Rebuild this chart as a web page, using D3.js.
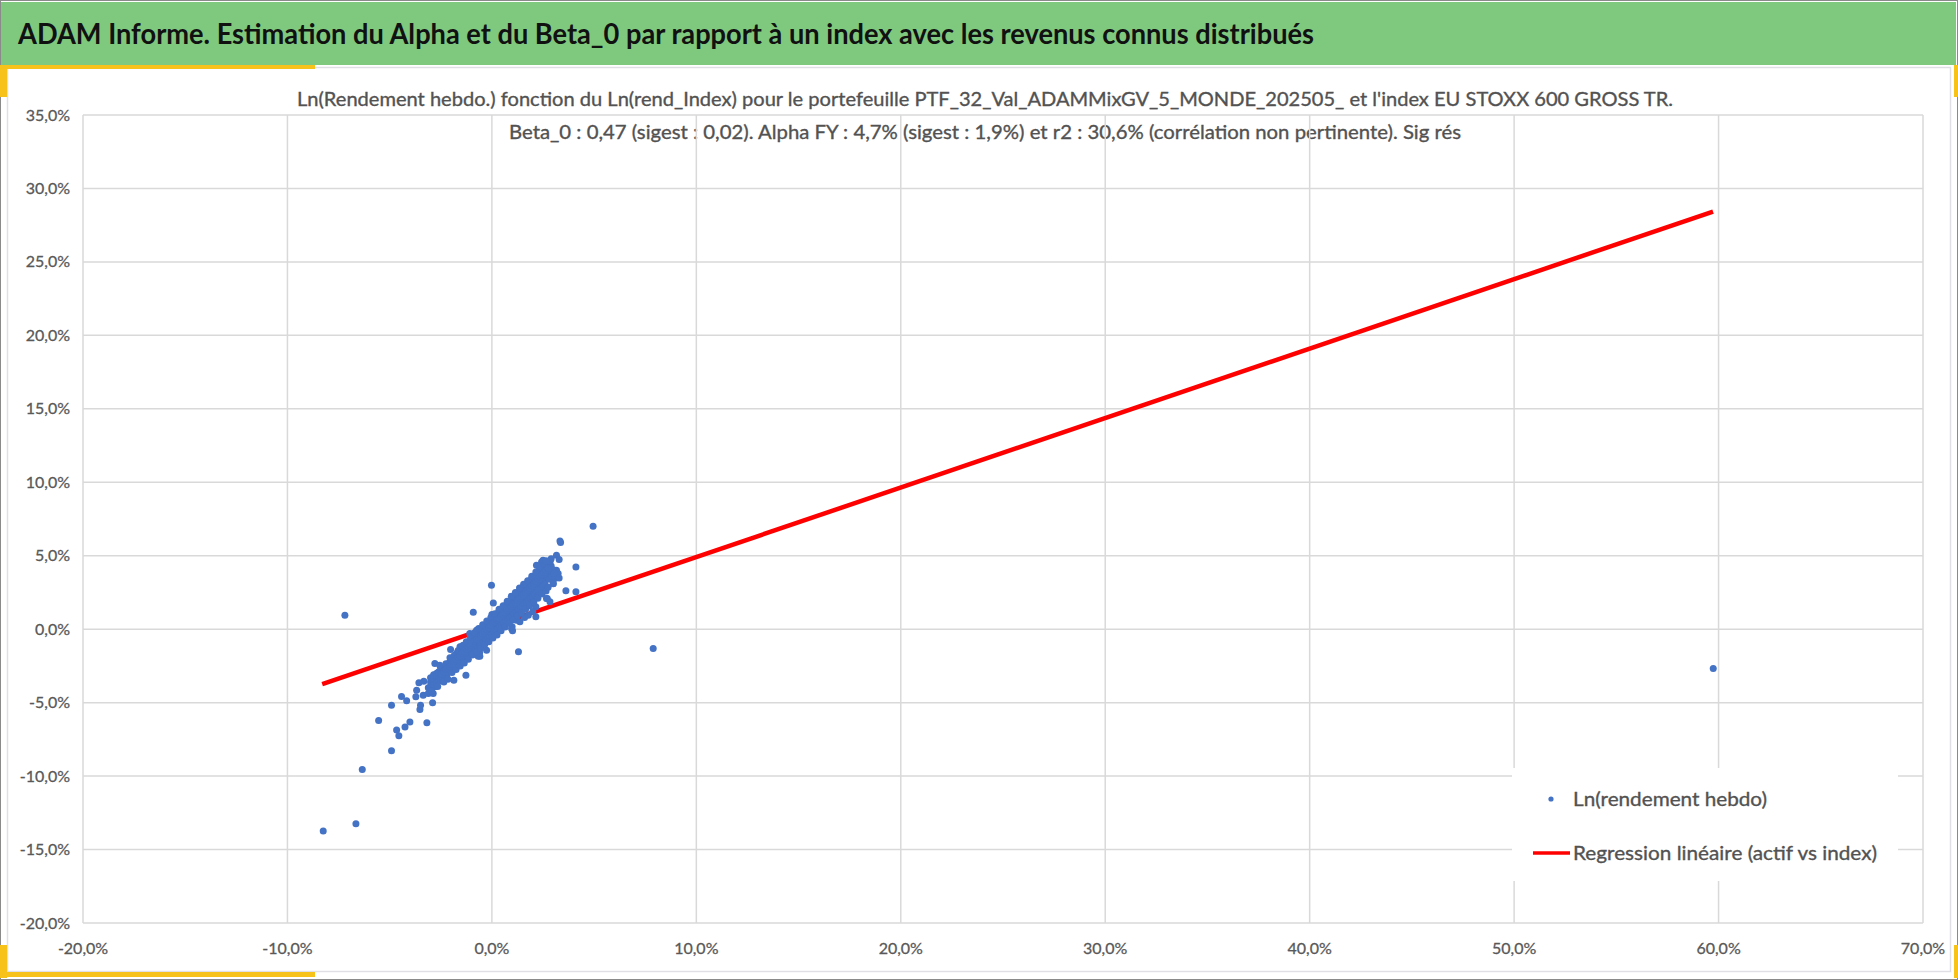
<!DOCTYPE html>
<html>
<head>
<meta charset="utf-8">
<script src="https://cdn.jsdelivr.net/npm/d3@7"></script>
<style>
  body { margin: 0; background: #fff; }
  svg text { font-family: Lato, "Open Sans", sans-serif; }
</style>
</head>
<body>
<div id="chart"></div>
<script>
// Dimensions
const width = 1958, height = 980;
const plot = { left: 83, right: 1923, top: 115, bottom: 923 };

// text
const headerTitle = "ADAM Informe. Estimation du Alpha et du Beta_0 par rapport à un index avec les revenus connus distribués";
const subTitle1 = "Ln(Rendement hebdo.) fonction du Ln(rend_Index) pour le portefeuille PTF_32_Val_ADAMMixGV_5_MONDE_202505_ et l'index EU STOXX 600 GROSS TR.";
const subTitle2 = "Beta_0 : 0,47 (sigest : 0,02).  Alpha FY : 4,7% (sigest : 1,9%) et r2 : 30,6% (corrélation non pertinente). Sig rés";
const legendLabels = ["Ln(rendement hebdo)", "Regression linéaire (actif vs index)"];

// axes (percent)
const xTicks = [-20, -10, 0, 10, 20, 30, 40, 50, 60, 70];
const yTicks = [-20, -15, -10, -5, 0, 5, 10, 15, 20, 25, 30, 35];

// regression line end points (index %, portfolio %)
const regX = [-8.3, 59.73];
const regY = [-3.74, 28.43];

// weekly log returns, [index %, portfolio %]
const weeklyPoints = [
  [59.74, -2.67], [7.89, -1.31], [-7.19, 0.95], [4.95, 7.0],
  [-8.25, -13.74], [-6.65, -13.24], [-6.34, -9.55], [-4.91, -8.28], [-5.54, -6.21],
  [-4.91, -5.17], [-4.66, -6.87], [-4.55, -7.26], [-4.25, -6.65], [-4.01, -6.31],
  [-4.42, -4.58], [-4.17, -4.88], [-3.68, -4.15], [-3.72, -4.60], [-3.52, -5.46],
  [-3.49, -5.17], [-3.18, -6.37], [-3.57, -3.65], [-3.33, -3.54], [-3.36, -4.49],
  [-3.11, -4.38], [-3.11, -3.99], [-2.90, -5.01], [-2.79, -2.34], [-2.79, -3.92],
  [-2.74, -3.58], [-2.87, -4.38], [-1.86, -3.47], [-1.27, -3.13], [-0.59, -1.84],
  [1.30, -1.54], [-2.02, -1.38], [-1.56, -1.2], [-0.91, 1.16], [0.07, 1.79], [-0.02, 2.99],
  [3.33, 6.0], [3.36, 5.9], [3.16, 5.03], [3.29, 4.74], [4.11, 4.24], [3.62, 2.61],
  [4.11, 2.54], [2.71, 2.09], [2.84, 1.86], [2.67, 2.09], [3.16, 4.01], [3.24, 3.79],
  [3.08, 3.45], [3.0, 3.11], [3.29, 3.49], [2.76, 4.35], [2.43, 4.58], [2.18, 4.35],
  [2.15, 0.84], [2.15, 1.52], [1.78, 0.95], [1.37, 0.5], [0.96, 0.05], [1.01, -0.1],
  [0.99, 0.16], [0.23, 0.39], [0.72, 0.5], [-0.1, 0.39], [0.23, -0.29], [-1.08, -0.29],
  [-0.75, -0.07], [-0.67, -1.84], [-0.26, -1.43], [-1.24, -1.88],
  [-3.0, -3.9], [-3.0, -3.3], [-3.0, -3.6], [-2.85, -3.5], [-2.85, -3.1], [-2.85, -3.8],
  [-2.7, -3.4], [-2.7, -3.0], [-2.7, -3.2], [-2.7, -3.7], [-2.6, -3.3], [-2.6, -2.9],
  [-2.6, -3.55], [-2.5, -3.2], [-2.5, -2.8], [-2.5, -3.0], [-2.5, -3.45], [-2.5, -2.6],
  [-2.4, -3.1], [-2.4, -2.7], [-2.4, -2.95], [-2.4, -3.35], [-2.3, -3.0], [-2.3, -2.65],
  [-2.3, -2.85], [-2.3, -3.2], [-2.2, -2.9], [-2.2, -2.5], [-2.2, -2.7], [-2.2, -3.1],
  [-2.1, -2.6], [-2.1, -2.3], [-2.1, -2.85], [-2.1, -2.45], [-2.0, -2.5], [-2.0, -2.2],
  [-2.0, -2.7], [-2.0, -2.35], [-1.9, -2.4], [-1.9, -2.1], [-1.9, -2.6], [-1.9, -2.25],
  [-1.8, -2.3], [-1.8, -2.0], [-1.8, -2.15], [-1.8, -2.5], [-1.8, -1.75], [-1.7, -2.15],
  [-1.7, -1.9], [-1.7, -2.35], [-1.7, -1.6], [-1.6, -2.05], [-1.6, -1.75], [-1.6, -1.5],
  [-1.6, -2.2], [-1.5, -1.9], [-1.5, -1.65], [-1.5, -1.4], [-1.5, -2.15], [-1.4, -1.8],
  [-1.4, -1.55], [-1.4, -1.3], [-1.4, -2.0], [-1.4, -1.1], [-1.3, -1.7], [-1.3, -1.45],
  [-1.3, -1.2], [-1.3, -1.95], [-1.2, -1.55], [-1.2, -1.3], [-1.2, -1.05], [-1.2, -1.8],
  [-1.2, -0.9], [-1.1, -1.45], [-1.1, -1.2], [-1.1, -0.95], [-1.1, -1.65], [-1.0, -1.3],
  [-1.0, -1.05], [-1.0, -0.8], [-1.0, -1.55], [-1.0, -0.6], [-0.9, -1.2], [-0.9, -0.95],
  [-0.9, -0.7], [-0.9, -1.4], [-0.9, -0.5], [-0.8, -1.1], [-0.8, -0.85], [-0.8, -0.6],
  [-0.8, -1.3], [-0.8, -0.4], [-0.7, -0.95], [-0.7, -0.7], [-0.7, -0.45], [-0.7, -1.2],
  [-0.7, -0.25], [-0.6, -0.85], [-0.6, -0.6], [-0.6, -0.35], [-0.6, -1.1], [-0.6, -0.1],
  [-0.6, -1.6], [-0.5, -0.7], [-0.5, -0.45], [-0.5, -0.2], [-0.5, -0.95], [-0.5, 0.0],
  [-0.4, -0.6], [-0.4, -0.35], [-0.4, -0.1], [-0.4, -0.8], [-0.4, 0.15], [-0.3, -0.45],
  [-0.3, -0.2], [-0.3, 0.05], [-0.3, -0.7], [-0.3, 0.3], [-0.2, -0.35], [-0.2, -0.1],
  [-0.2, 0.15], [-0.2, -0.6], [-0.2, 0.4], [-0.1, -0.2], [-0.1, 0.05], [-0.1, 0.3],
  [-0.1, -0.45], [-0.1, 0.55], [0.0, -0.1], [0.0, 0.15], [0.0, 0.4], [0.0, -0.35],
  [0.0, 0.65], [0.0, 1.0], [0.1, 0.05], [0.1, 0.3], [0.1, 0.55], [0.1, -0.2], [0.1, 0.8],
  [0.2, 0.2], [0.2, 0.45], [0.2, 0.7], [0.2, -0.05], [0.2, 0.95], [0.3, 0.3], [0.3, 0.55],
  [0.3, 0.8], [0.3, 0.05], [0.3, 1.1], [0.4, 0.45], [0.4, 0.7], [0.4, 0.95], [0.4, 0.2],
  [0.4, 1.25], [0.5, 0.55], [0.5, 0.8], [0.5, 1.05], [0.5, 0.3], [0.5, 1.35], [0.6, 0.7],
  [0.6, 0.95], [0.6, 1.2], [0.6, 0.45], [0.6, 1.5], [0.7, 0.8], [0.7, 1.05], [0.7, 1.35],
  [0.7, 0.55], [0.7, 1.65], [0.8, 0.95], [0.8, 1.2], [0.8, 1.45], [0.8, 0.7], [0.8, 1.8],
  [0.9, 1.05], [0.9, 1.35], [0.9, 1.6], [0.9, 0.8], [0.9, 1.95], [1.0, 1.2], [1.0, 1.45],
  [1.0, 1.75], [1.0, 0.9], [1.0, 2.1], [1.1, 1.3], [1.1, 1.6], [1.1, 1.9], [1.1, 1.0],
  [1.1, 2.2], [1.2, 1.45], [1.2, 1.75], [1.2, 2.0], [1.2, 1.15], [1.2, 2.35], [1.2, 0.6],
  [1.3, 1.6], [1.3, 1.85], [1.3, 2.15], [1.3, 1.3], [1.3, 2.5], [1.4, 1.7], [1.4, 2.0],
  [1.4, 2.3], [1.4, 1.4], [1.4, 2.6], [1.5, 1.85], [1.5, 2.15], [1.5, 2.45], [1.5, 1.55],
  [1.5, 2.75], [1.6, 2.0], [1.6, 2.3], [1.6, 2.6], [1.6, 1.7], [1.6, 2.9], [1.6, 0.8],
  [1.7, 2.1], [1.7, 2.45], [1.7, 2.75], [1.7, 1.8], [1.7, 3.05], [1.8, 2.25], [1.8, 2.6],
  [1.8, 2.9], [1.8, 1.95], [1.8, 3.2], [1.9, 2.4], [1.9, 2.75], [1.9, 3.05], [1.9, 2.1],
  [1.9, 3.35], [2.0, 2.55], [2.0, 2.9], [2.0, 3.2], [2.0, 2.2], [2.0, 3.5], [2.0, 1.2],
  [2.1, 2.7], [2.1, 3.05], [2.1, 3.35], [2.1, 2.35], [2.1, 3.65], [2.2, 2.85], [2.2, 3.2],
  [2.2, 3.5], [2.2, 2.5], [2.2, 3.8], [2.3, 3.0], [2.3, 3.35], [2.3, 3.7], [2.3, 2.6],
  [2.3, 4.0], [2.4, 3.15], [2.4, 3.5], [2.4, 3.85], [2.4, 2.75], [2.4, 4.2], [2.5, 3.3],
  [2.5, 3.65], [2.5, 4.0], [2.5, 2.9], [2.6, 3.45], [2.6, 3.8], [2.6, 4.2], [2.6, 3.05],
  [2.6, 4.4], [2.7, 3.6], [2.7, 3.95], [2.7, 4.35], [2.8, 3.75], [2.8, 4.1], [2.8, 4.5],
  [2.8, 3.4], [2.9, 3.9], [2.9, 4.3], [3.0, 4.05], [3.0, 3.1],
  // outer edges of the band
  [-2.95, -4.2], [-2.65, -3.9], [-2.55, -2.45], [-2.35, -3.6], [-2.25, -2.35], [-2.15, -3.4],
  [-2.05, -1.95], [-1.95, -2.95], [-1.85, -1.8], [-1.75, -2.75], [-1.65, -1.45], [-1.55, -2.5],
  [-1.45, -1.15], [-1.35, -2.3], [-1.25, -0.85], [-1.15, -2.05], [-1.05, -0.55], [-0.95, -1.75],
  [-0.85, -0.25], [-0.75, -1.55], [-0.65, 0.05], [-0.55, -1.3], [-0.45, 0.3], [-0.35, -1.05],
  [-0.25, 0.55], [-0.15, -0.85], [-0.05, 0.8], [0.05, -0.6], [0.15, 1.05], [0.25, -0.4],
  [0.35, 1.35], [0.45, -0.1], [0.55, 1.6], [0.65, 0.15], [0.75, 1.9], [0.85, 0.4],
  [0.95, 2.25], [1.05, 0.65], [1.15, 2.5], [1.25, 0.9], [1.35, 2.8], [1.45, 1.1],
  [1.55, 3.05], [1.65, 1.35], [1.75, 3.3], [1.85, 1.6], [1.95, 3.6], [2.05, 1.85],
  [2.15, 3.9], [2.25, 2.1], [2.35, 4.3], [2.45, 2.4], [2.55, 4.45], [2.65, 2.6],
  [2.75, 2.85], [2.95, 3.6], [3.05, 3.8], [2.85, 4.6], [2.9, 4.8], [2.5, 4.7], [2.65, 4.65],
  // band core
  [-2.45, -3.05], [-2.35, -2.9], [-2.25, -2.75], [-2.15, -2.65], [-2.05, -2.55], [-1.95, -2.4],
  [-1.85, -2.2], [-1.75, -2.05], [-1.65, -1.9], [-1.55, -1.8], [-1.45, -1.6], [-1.35, -1.5],
  [-1.25, -1.35], [-1.15, -1.25], [-1.05, -1.1], [-0.95, -0.95], [-0.85, -0.8], [-0.75, -0.7],
  [-0.65, -0.55], [-0.55, -0.45], [-0.45, -0.3], [-0.35, -0.15], [-0.25, 0.0], [-0.15, 0.1],
  [-0.05, 0.25], [0.05, 0.4], [0.15, 0.5], [0.25, 0.65], [0.35, 0.75], [0.45, 0.9],
  [0.55, 1.0], [0.65, 1.15], [0.75, 1.3], [0.85, 1.4], [0.95, 1.55], [1.05, 1.7],
  [1.15, 1.8], [1.25, 1.95], [1.35, 2.1], [1.45, 2.25], [1.55, 2.35], [1.65, 2.5],
  [1.75, 2.65], [1.85, 2.8], [1.95, 2.95], [2.05, 3.1], [2.15, 3.25], [2.25, 3.4],
  [2.35, 3.55], [2.45, 3.7], [2.55, 3.85], [2.65, 4.0], [2.75, 4.15]
];

const svg = d3.select("#chart").append("svg")
  .attr("width", width)
  .attr("height", height)
  .style("display", "block");

// frame and header
svg.append("rect").attr("x", 0.5).attr("y", 0.5).attr("width", width - 1).attr("height", height - 1)
  .attr("fill", "#fff").attr("stroke", "#8a8a8a");
svg.append("rect").attr("x", 1).attr("y", 2).attr("width", width - 3).attr("height", 63).attr("fill", "#7fc97f");
svg.append("rect").attr("x", 7.5).attr("y", 67.5).attr("width", width - 15).attr("height", 904)
  .attr("fill", "none").attr("stroke", "#e1dfe6").attr("stroke-width", 1.5);
const yellow = "#f7c31a";
const accents = [
  [0, 65, 315, 4], [0, 65, 7, 32], [1954, 65, 4, 32],
  [0, 945, 7, 33], [0, 972, 315, 5], [1954, 945, 4, 33]
];
svg.selectAll(".accent").data(accents).enter().append("rect")
  .attr("class", "accent")
  .attr("x", d => d[0]).attr("y", d => d[1]).attr("width", d => d[2]).attr("height", d => d[3])
  .attr("fill", yellow);

svg.append("text")
  .attr("x", 18).attr("y", 44)
  .attr("font-size", 28).attr("font-weight", "bold").attr("fill", "#111")
  .attr("textLength", 1296).attr("lengthAdjust", "spacingAndGlyphs")
  .text(headerTitle);

// subtitle
const subStyle = sel => sel
  .attr("text-anchor", "middle").attr("font-size", 19.5).attr("fill", "#525252")
  .attr("stroke", "#525252").attr("stroke-width", 0.35).attr("lengthAdjust", "spacingAndGlyphs");
svg.append("text").attr("x", 985).attr("y", 106).attr("textLength", 1376).call(subStyle).text(subTitle1);
svg.append("text").attr("x", 985).attr("y", 139).attr("textLength", 952).call(subStyle).text(subTitle2);

// scales
const x = d3.scaleLinear().domain([-20, 70]).range([plot.left, plot.right]);
const y = d3.scaleLinear().domain([-20, 35]).range([plot.bottom, plot.top]);
const fmt = v => d3.format(".1f")(v).replace(".", ",").replace("−", "-") + "%";

// gridlines
svg.append("g").selectAll("line").data(yTicks).enter().append("line")
  .attr("x1", plot.left).attr("x2", plot.right)
  .attr("y1", d => y(d)).attr("y2", d => y(d))
  .attr("stroke", "#d9d9d9").attr("stroke-width", 1.5);
svg.append("g").selectAll("line").data(xTicks).enter().append("line")
  .attr("y1", plot.top).attr("y2", plot.bottom)
  .attr("x1", d => x(d)).attr("x2", d => x(d))
  .attr("stroke", "#d9d9d9").attr("stroke-width", 1.5);

// tick labels
const tickStyle = sel => sel
  .attr("font-size", 16).attr("fill", "#595959")
  .attr("stroke", "#595959").attr("stroke-width", 0.3);
svg.append("g").selectAll("text").data(yTicks).enter().append("text")
  .attr("x", 70).attr("y", d => y(d) + 5.5)
  .attr("text-anchor", "end").call(tickStyle)
  .text(fmt);
svg.append("g").selectAll("text").data(xTicks).enter().append("text")
  .attr("x", d => x(d)).attr("y", 954)
  .attr("text-anchor", "middle").call(tickStyle)
  .text(fmt);

// regression line
const regData = regX.map((v, i) => [v, regY[i]]);
svg.append("path")
  .datum(regData)
  .attr("d", d3.line().x(d => x(d[0])).y(d => y(d[1])))
  .attr("stroke", "#ff0000").attr("stroke-width", 4.5).attr("fill", "none");

// points
svg.append("g").selectAll("circle").data(weeklyPoints).enter().append("circle")
  .attr("cx", d => x(d[0])).attr("cy", d => y(d[1]))
  .attr("r", 3.5).attr("fill", "#4472c4");

// legend
const legend = svg.append("g");
legend.append("rect").attr("x", 1512).attr("y", 768).attr("width", 386).attr("height", 113).attr("fill", "#fff");
legend.append("circle").attr("cx", 1551).attr("cy", 799).attr("r", 2.6).attr("fill", "#4472c4");
legend.append("line").attr("x1", 1533).attr("x2", 1570).attr("y1", 853).attr("y2", 853)
  .attr("stroke", "#ff0000").attr("stroke-width", 3.5);
legend.selectAll("text").data(legendLabels).enter().append("text")
  .attr("x", 1573).attr("y", (d, i) => 806 + i * 54)
  .attr("font-size", 19.5).attr("fill", "#525252")
  .attr("stroke", "#525252").attr("stroke-width", 0.35)
  .attr("textLength", (d, i) => i === 0 ? 194 : 304).attr("lengthAdjust", "spacingAndGlyphs")
  .text(d => d);
</script>
</body>
</html>
